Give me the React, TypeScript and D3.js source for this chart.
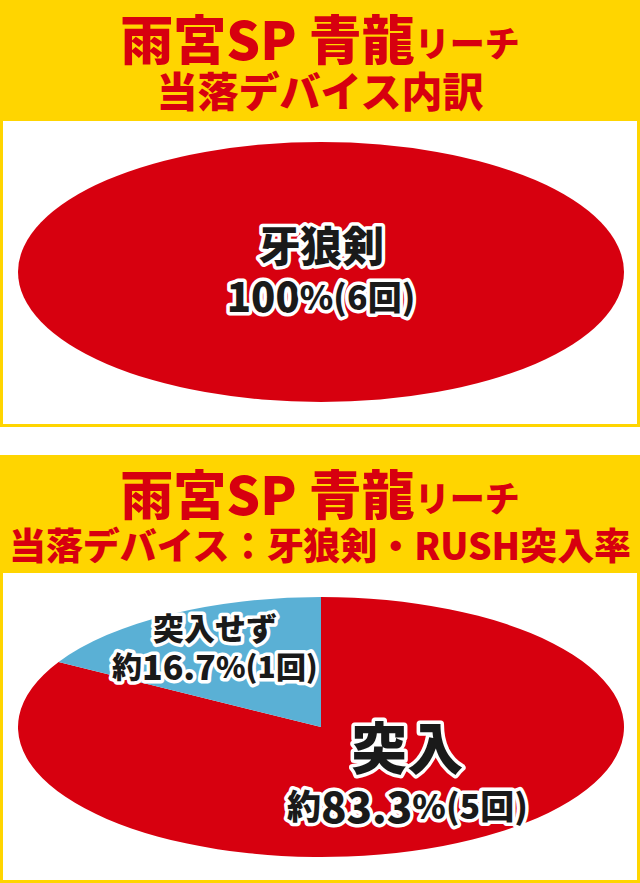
import React from 'react'
import * as d3 from 'd3'

// 上段: 当落デバイス内訳
const deviceNames = ['牙狼剣']
const deviceCounts = [6]
const devicePercents = ['100%']

// 下段: 牙狼剣・RUSH突入率
const rushNames = ['突入', '突入せず']
const rushCounts = [5, 1]
const rushPercents = ['83.3%', '16.7%']

const titleMain = '雨宮SP 青龍'
const titleSub = 'リーチ'
const subtitleTop = '当落デバイス内訳'
const subtitleBottom = '当落デバイス：牙狼剣・RUSH突入率'

const W = 640
const H = 883
const YELLOW = '#ffd500'
const RED = '#d7000f'
const BLUE = '#5ab0d5'
const FONT = '"Noto Sans CJK JP", "Noto Sans", sans-serif'

interface Slice {
  name: string
  count: number
  pct: string
  color: string
}

const outline = {
  stroke: '#fff',
  strokeWidth: 7,
  strokeLinejoin: 'round' as const,
  paintOrder: 'stroke' as const,
  fill: '#1a1a1a',
  fontFamily: FONT,
  fontWeight: 900,
}

function Header({ y, h, sub, subSize, subLen }: { y: number; h: number; sub: string; subSize: number; subLen?: number }) {
  return (
    <g>
      <rect x={0} y={y} width={W} height={h} fill={YELLOW} />
      <text
        x={W / 2}
        y={y + 37}
        textAnchor="middle"
        dominantBaseline="central"
        fill={RED}
        fontFamily={FONT}
        fontWeight={900}
      >
        <tspan fontSize={53}>{titleMain}</tspan>
        <tspan fontSize={35} dy={4}>{titleSub}</tspan>
      </text>
      <text
        x={W / 2}
        y={y + 89}
        textAnchor="middle"
        dominantBaseline="central"
        fill={RED}
        fontFamily={FONT}
        fontWeight={900}
        fontSize={subSize}
        textLength={subLen}
        lengthAdjust={subLen ? 'spacingAndGlyphs' : undefined}
      >
        {sub}
      </text>
    </g>
  )
}

function Ellipse({
  slices, cx, cy, rx, ry, labels,
}: {
  slices: Slice[]
  cx: number
  cy: number
  rx: number
  ry: number
  labels: { k: number; dx: number; dy: number; nameSize: number; numSize: number; smallSize: number; gap: number }[]
}) {
  const pie = d3.pie<Slice>().sort(null).value(d => d.count)
  const arcs = pie(slices)
  const arc = d3.arc<d3.PieArcDatum<Slice>>().innerRadius(0).outerRadius(1)
  const sx = d3.scaleLinear().domain([-1, 1]).range([cx - rx, cx + rx])
  const sy = d3.scaleLinear().domain([-1, 1]).range([cy - ry, cy + ry])

  return (
    <g>
      <g transform={`translate(${cx},${cy}) scale(${rx},${ry})`}>
        {arcs.map((a, i) => (
          <path key={i} d={arc(a) || ''} fill={a.data.color} />
        ))}
      </g>
      {arcs.map((a, i) => {
        const l = labels[i]
        const mid = (a.startAngle + a.endAngle) / 2
        const only = arcs.length === 1
        const ux = only ? 0 : Math.sin(mid) * l.k
        const uy = only ? 0 : -Math.cos(mid) * l.k
        const x = sx(ux) + l.dx
        const y = sy(uy) + l.dy
        const pre = a.data.pct.startsWith('100') ? '' : '約'
        return (
          <g key={'l' + i}>
            <text x={x} y={y - l.gap / 2} textAnchor="middle" dominantBaseline="central"
              fontSize={l.nameSize} {...outline}>
              {a.data.name}
            </text>
            <text x={x} y={y + l.gap / 2} textAnchor="middle" dominantBaseline="central" {...outline}>
              {pre && <tspan fontSize={l.smallSize}>{pre}</tspan>}
              <tspan fontSize={l.numSize}>{a.data.pct.replace('%', '')}</tspan>
              <tspan fontSize={l.smallSize}>%({a.data.count}回)</tspan>
            </text>
          </g>
        )
      })}
    </g>
  )
}

export default function App() {
  const deviceSlices: Slice[] = deviceNames.map((n, i) => ({
    name: n, count: deviceCounts[i], pct: devicePercents[i], color: RED,
  }))
  const rushColor = d3.scaleOrdinal<string, string>().domain(rushNames).range([RED, BLUE])
  const rushSlices: Slice[] = rushNames.map((n, i) => ({
    name: n, count: rushCounts[i], pct: rushPercents[i], color: rushColor(n),
  }))

  return (
    <svg width={W} height={H} style={{ position: 'absolute', left: 0, top: 0, background: '#fff' }}>
      <rect width={W} height={H} fill="#fff" />

      <Header y={0} h={121} sub={subtitleTop} subSize={41} />
      <rect x={1.5} y={119.5} width={W - 3} height={306} fill="#fff" stroke={YELLOW} strokeWidth={3} />
      <Ellipse
        slices={deviceSlices}
        cx={321} cy={272} rx={303} ry={130}
        labels={[{ k: 0, dx: 0, dy: -3, nameSize: 42, numSize: 40, smallSize: 34, gap: 52 }]}
      />

      <Header y={455} h={118} sub={subtitleBottom} subSize={37} subLen={622} />
      <rect x={1.5} y={571.5} width={W - 3} height={310} fill="#fff" stroke={YELLOW} strokeWidth={3} />
      <Ellipse
        slices={rushSlices}
        cx={321} cy={727} rx={303} ry={130}
        labels={[
          { k: 0.57, dx: 0, dy: -17, nameSize: 56, numSize: 42, smallSize: 34, gap: 60 },
          { k: 0.72, dx: 3, dy: 0, nameSize: 31, numSize: 34, smallSize: 30, gap: 38 },
        ]}
      />
    </svg>
  )
}
